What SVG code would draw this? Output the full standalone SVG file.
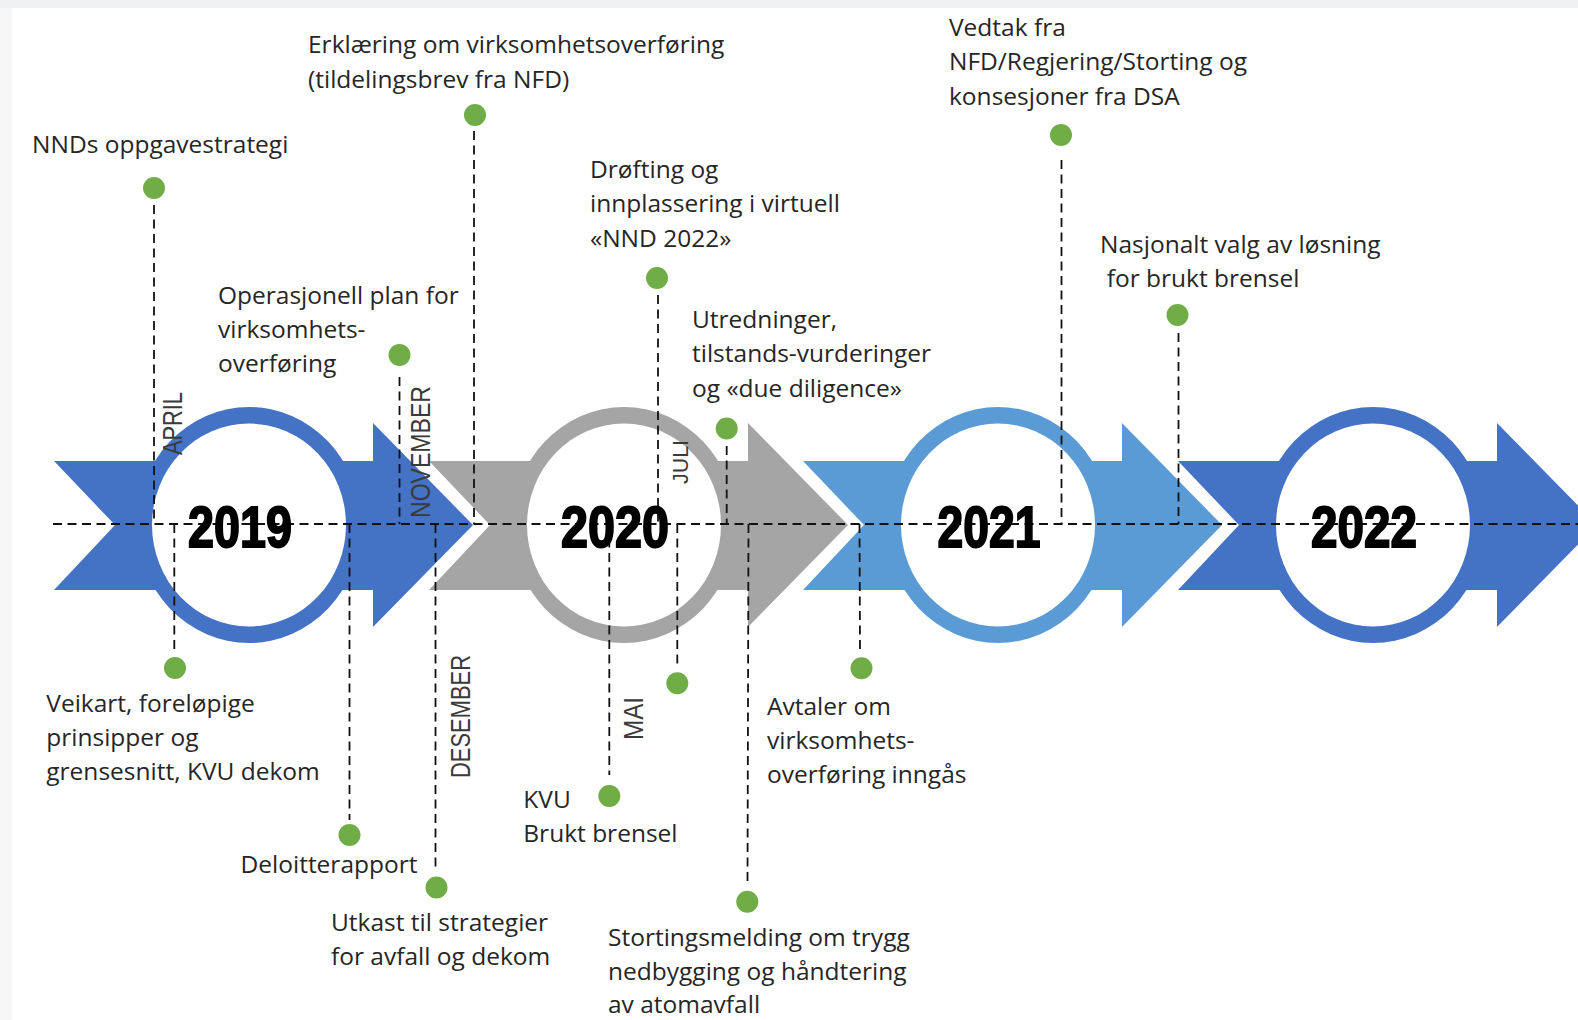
<svg xmlns="http://www.w3.org/2000/svg" width="1578" height="1020" viewBox="0 0 1578 1020">
  <defs>
    <style>
      .lbl { font-family: "Open Sans", "Liberation Sans", sans-serif; font-size: 24.5px; fill: #262626; }
      .mon { font-family: "Liberation Sans Narrow", "Liberation Sans", sans-serif; font-size: 27px; fill: #3a3a3a; }
      .yr { font-family: "Liberation Sans Narrow", "Liberation Sans", sans-serif; font-weight: 700; font-size: 58px; fill: #000; stroke: #000; stroke-width: 2; text-anchor: middle; }
      .dash { stroke: #111; stroke-width: 1.8; stroke-dasharray: 9 5.5; fill: none; }
      .dot { fill: #70AD47; }
      .blue { fill: #4472C4; }
      .grey { fill: #A5A5A5; }
      .light { fill: #5B9BD5; }
      .hole { fill: #ffffff; }
    </style>
    <!-- chevron band, origin at the ring centre -->
    <polygon id="chev" points="-195,-64 124,-64 124,-102 224,0 124,102 124,65 -195,65 -134,0"/>
  </defs>

  <!-- page -->
  <rect x="0" y="0" width="1578" height="1020" fill="#ffffff"/>
  <rect x="0" y="0" width="1578" height="8" fill="#eef0f2"/>
  <rect x="0" y="8" width="12" height="1012" fill="#f7f7f7"/>

  <!-- year bands -->
  <g id="year-2019" class="blue">
    <use href="#chev" transform="translate(249,525)"/>
    <ellipse cx="249" cy="525" rx="112" ry="118"/>
    <ellipse class="hole" cx="249" cy="525" rx="97" ry="101.5"/>
  </g>
  <g id="year-2020" class="grey">
    <use href="#chev" transform="translate(624,525)"/>
    <ellipse cx="624" cy="525" rx="112" ry="118"/>
    <ellipse class="hole" cx="624" cy="525" rx="97" ry="101.5"/>
  </g>
  <g id="year-2021" class="light">
    <use href="#chev" transform="translate(998,525)"/>
    <ellipse cx="998" cy="525" rx="112" ry="118"/>
    <ellipse class="hole" cx="998" cy="525" rx="97" ry="101.5"/>
  </g>
  <g id="year-2022" class="blue">
    <use href="#chev" transform="translate(1373,525)"/>
    <ellipse cx="1373" cy="525" rx="112" ry="118"/>
    <ellipse class="hole" cx="1373" cy="525" rx="97" ry="101.5"/>
  </g>

  <!-- timeline axis and drop lines -->
  <g id="connectors" class="dash">
    <line x1="53" y1="524" x2="1578" y2="524"/>
    <line x1="154" y1="205" x2="154" y2="524"/>
    <line x1="474" y1="131" x2="474" y2="524"/>
    <line x1="399.5" y1="377" x2="399.5" y2="524"/>
    <line x1="658" y1="295" x2="658" y2="524"/>
    <line x1="726.7" y1="446" x2="726.7" y2="524"/>
    <line x1="1061.5" y1="160" x2="1061.5" y2="524"/>
    <line x1="1178.5" y1="333" x2="1178.5" y2="524"/>
    <line x1="174.3" y1="524" x2="174.3" y2="652"/>
    <line x1="349.5" y1="524" x2="349.5" y2="820"/>
    <line x1="435.5" y1="524" x2="435.5" y2="871"/>
    <line x1="609.3" y1="524" x2="609.3" y2="775"/>
    <line x1="677.3" y1="524" x2="677.3" y2="665"/>
    <line x1="748.5" y1="524" x2="747.5" y2="881"/>
    <line x1="859.5" y1="524" x2="860" y2="651"/>
  </g>

  <!-- year labels -->
  <g id="year-labels">
    <text class="yr" x="240" y="547" textLength="104" lengthAdjust="spacingAndGlyphs">2019</text>
    <text class="yr" x="615" y="547" textLength="108" lengthAdjust="spacingAndGlyphs">2020</text>
    <text class="yr" x="989" y="547" textLength="103" lengthAdjust="spacingAndGlyphs">2021</text>
    <text class="yr" x="1364" y="547" textLength="106" lengthAdjust="spacingAndGlyphs">2022</text>
  </g>

  <!-- events above the axis -->
  <g id="ev-strategi">
    <circle class="dot" cx="154" cy="188" r="11"/>
    <text class="lbl" x="32" y="153">NNDs oppgavestrategi</text>
    <text class="mon" transform="translate(182,455) rotate(-90)" textLength="63" lengthAdjust="spacingAndGlyphs">APRIL</text>
  </g>
  <g id="ev-erklaering">
    <circle class="dot" cx="475" cy="115" r="11"/>
    <text class="lbl" x="308" y="53">Erklæring om virksomhetsoverføring</text>
    <text class="lbl" x="308" y="87.5">(tildelingsbrev fra NFD)</text>
  </g>
  <g id="ev-operasjonell">
    <circle class="dot" cx="399.5" cy="355" r="11"/>
    <text class="lbl" x="218" y="303.5">Operasjonell plan for</text>
    <text class="lbl" x="218" y="337.7">virksomhets-</text>
    <text class="lbl" x="218" y="372">overføring</text>
    <text class="mon" transform="translate(430,518) rotate(-90)" textLength="132" lengthAdjust="spacingAndGlyphs">NOVEMBER</text>
  </g>
  <g id="ev-drofting">
    <circle class="dot" cx="657" cy="278" r="11"/>
    <text class="lbl" x="590" y="178">Drøfting og</text>
    <text class="lbl" x="590" y="212">innplassering i virtuell</text>
    <text class="lbl" x="590" y="246.5">«NND 2022»</text>
    <text class="mon" style="font-size:22px" transform="translate(688,484) rotate(-90)" textLength="44" lengthAdjust="spacingAndGlyphs">JULI</text>
  </g>
  <g id="ev-utredninger">
    <circle class="dot" cx="726.7" cy="428.5" r="11"/>
    <text class="lbl" x="692" y="328">Utredninger,</text>
    <text class="lbl" x="692" y="362">tilstands-vurderinger</text>
    <text class="lbl" x="692" y="396.5">og «due diligence»</text>
  </g>
  <g id="ev-vedtak">
    <circle class="dot" cx="1061" cy="135" r="11"/>
    <text class="lbl" x="949" y="36">Vedtak fra</text>
    <text class="lbl" x="949" y="70.4">NFD/Regjering/Storting og</text>
    <text class="lbl" x="949" y="104.6">konsesjoner fra DSA</text>
  </g>
  <g id="ev-nasjonalt">
    <circle class="dot" cx="1177.5" cy="315" r="11"/>
    <text class="lbl" x="1100" y="253">Nasjonalt valg av løsning</text>
    <text class="lbl" x="1106.7" y="287">for brukt brensel</text>
  </g>

  <!-- events below the axis -->
  <g id="ev-veikart">
    <circle class="dot" cx="175" cy="668" r="11"/>
    <text class="lbl" x="46.3" y="711.5">Veikart, foreløpige</text>
    <text class="lbl" x="46.3" y="745.7">prinsipper og</text>
    <text class="lbl" x="46.3" y="780">grensesnitt, KVU dekom</text>
  </g>
  <g id="ev-deloitte">
    <circle class="dot" cx="349.5" cy="835" r="11"/>
    <text class="lbl" x="240.5" y="873">Deloitterapport</text>
  </g>
  <g id="ev-utkast">
    <circle class="dot" cx="436.5" cy="887.5" r="11"/>
    <text class="lbl" x="331" y="931">Utkast til strategier</text>
    <text class="lbl" x="331" y="965">for avfall og dekom</text>
    <text class="mon" transform="translate(470,778) rotate(-90)" textLength="123" lengthAdjust="spacingAndGlyphs">DESEMBER</text>
  </g>
  <g id="ev-kvu">
    <circle class="dot" cx="609.3" cy="796" r="11"/>
    <text class="lbl" x="523.3" y="808">KVU</text>
    <text class="lbl" x="523.3" y="842">Brukt brensel</text>
    <text class="mon" transform="translate(643,740) rotate(-90)" textLength="43" lengthAdjust="spacingAndGlyphs">MAI</text>
  </g>
  <g id="ev-juli">
    <circle class="dot" cx="677.3" cy="683.3" r="11"/>
  </g>
  <g id="ev-stortingsmelding">
    <circle class="dot" cx="747.3" cy="901.7" r="11"/>
    <text class="lbl" x="608" y="946">Stortingsmelding om trygg</text>
    <text class="lbl" x="608" y="980">nedbygging og håndtering</text>
    <text class="lbl" x="608" y="1013">av atomavfall</text>
  </g>
  <g id="ev-avtaler">
    <circle class="dot" cx="861.5" cy="668.3" r="11"/>
    <text class="lbl" x="767" y="714.5">Avtaler om</text>
    <text class="lbl" x="767" y="748.7">virksomhets-</text>
    <text class="lbl" x="767" y="783">overføring inngås</text>
  </g>
</svg>
